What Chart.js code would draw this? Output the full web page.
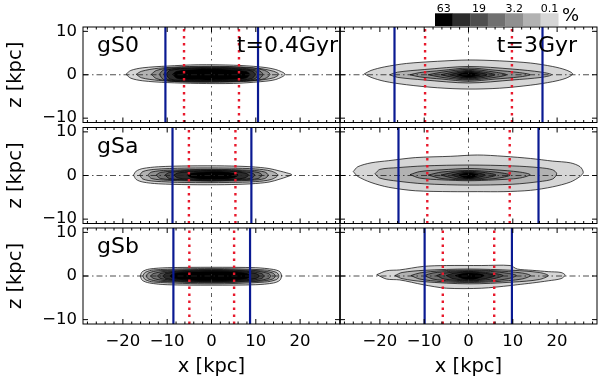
<!DOCTYPE html>
<html><head><meta charset="utf-8">
<script src="https://cdn.jsdelivr.net/npm/chart.js@4.4.0/dist/chart.umd.min.js"></script>
<style>
html,body{margin:0;padding:0;background:#fff;}
#wrap{position:relative;width:600px;height:383px;background:#fff;overflow:hidden;}
#wrap canvas{position:absolute;left:0;top:0;}
</style></head><body><div id="wrap"></div>
<script>
// ---------------- data ----------------
const xTicks = [-20, -10, 0, 10, 20];
const zTicks = [-10, 0, 10];
const X_MIN = -29, X_MAX = 29, Z_MIN = -11, Z_MAX = 11;
const galaxies = ['gS0', 'gSa', 'gSb'];
const times = ['t=0.4Gyr', 't=3Gyr'];
const levelLabels = ['63', '19', '3.2', '0.1'];
const levelColors = ['#000000', '#2c2c2c', '#4e4e4e', '#707070', '#909090', '#b2b2b2', '#d6d6d6'];

// vertical markers [left, right] in kpc, panel order: gS0 early, gS0 late, gSa early, gSa late, gSb early, gSb late
const blueLines = [[-10.4, 10.5], [-16.7, 16.7], [-8.8, 9.0], [-15.8, 15.8], [-8.6, 8.7], [-9.9, 9.8]];
const redLines  = [[-6.2, 6.2], [-9.8, 9.8], [-5.1, 5.4], [-9.3, 9.3], [-5.0, 5.1], [-5.8, 5.8]];

// density contours: [level, [[x, zTop, zBottom], ...]] (kpc)
const gS0_early = [
  [6, [[-19.3,0.1,0.1],[-18.2,1.0,-0.8],[-15.5,1.6,-1.4],[-10,2.0,-1.8],[-3,2.3,-2.0],[5,2.2,-2.0],[11,1.8,-1.6],[14.5,1.2,-1.1],[16.6,0.1,0.1]]],
  [5, [[-17,0.1,0.1],[-15.8,0.8,-0.7],[-12,1.5,-1.3],[-5,1.9,-1.7],[4,1.9,-1.7],[10.5,1.5,-1.3],[14,0.8,-0.7],[15.2,0.1,0.1]]],
  [4, [[-13.6,0.1,0.1],[-12.4,1.0,-0.9],[-9,1.6,-1.5],[0,1.8,-1.6],[8.5,1.6,-1.4],[12,1.0,-0.9],[13.2,0.1,0.1]]],
  [3, [[-11.8,0.1,0.1],[-10.8,1.1,-1.1],[-7,1.5,-1.5],[0,1.7,-1.5],[7,1.5,-1.4],[10.6,1.0,-1.0],[11.6,0.1,0.1]]],
  [2, [[-10.8,0.1,0.1],[-10,1.1,-1.1],[-6,1.45,-1.4],[0,1.55,-1.45],[6,1.4,-1.35],[9.6,1.0,-1.0],[10.6,0.1,0.1]]],
  [1, [[-10.2,0.1,0.1],[-9.4,1.0,-1.0],[-5,1.35,-1.3],[0,1.45,-1.35],[5,1.3,-1.25],[9,0.9,-0.9],[9.9,0.1,0.1]]],
  [0, [[-8.8,0.1,0.1],[-7.8,0.8,-0.8],[-4,1.15,-1.1],[0,1.25,-1.2],[4,1.1,-1.05],[7.8,0.75,-0.75],[8.6,0.1,0.1]]]
];
const gS0_late = [
  [6, [[-23.5,0.2,0.2],[-22,1.0,-0.6],[-19,1.8,-1.5],[-14,2.6,-2.3],[-7,3.1,-3.0],[0,3.4,-3.3],[7,3.2,-3.1],[14,2.7,-2.4],[19,1.9,-1.6],[22,1.1,-0.8],[23.5,0.2,0.2]]],
  [5, [[-17.8,0,0],[-16,0.6,-0.6],[-10,1.2,-1.2],[0,1.9,-1.9],[10,1.3,-1.2],[16.5,0.6,-0.6],[18.8,0,0]]],
  [4, [[-13.2,0,0],[-11,0.5,-0.5],[-6,1.0,-1.0],[0,1.55,-1.5],[6,1.05,-1.0],[11.5,0.5,-0.5],[13.9,0,0]]],
  [3, [[-9.1,0,0],[-6,0.6,-0.6],[0,1.25,-1.2],[6,0.6,-0.6],[8.6,0,0]]],
  [2, [[-6.2,0,0],[-3.5,0.6,-0.6],[0,1.0,-1.0],[3.5,0.6,-0.6],[6.0,0,0]]],
  [1, [[-4.2,0,0],[-2,0.55,-0.55],[0,0.8,-0.8],[2,0.55,-0.55],[4.2,0,0]]],
  [0, [[-2.6,0,0],[-1,0.45,-0.45],[0,0.6,-0.6],[1,0.45,-0.45],[2.6,0,0]]]
];
const gSa_early = [
  [6, [[-17.6,0.1,0.1],[-17,1.0,-0.9],[-15.5,1.6,-1.5],[-12,2.0,-1.9],[-5,2.2,-2.1],[3,2.2,-2.1],[9,2.0,-1.9],[13,1.6,-1.5],[15.5,1.0,-0.8],[17,0.6,-0.3],[18.1,0.2,0.2]]],
  [5, [[-16.2,0.1,0.1],[-15.5,0.9,-0.8],[-13,1.4,-1.3],[-6,1.7,-1.6],[4,1.7,-1.6],[10,1.5,-1.4],[13.5,1.0,-0.9],[15,0.1,0.1]]],
  [4, [[-14.4,0.1,0.1],[-13.5,0.8,-0.7],[-10,1.2,-1.1],[0,1.4,-1.3],[9,1.2,-1.1],[12,0.8,-0.7],[12.8,0.1,0.1]]],
  [3, [[-12.5,0.1,0.1],[-11.5,0.7,-0.7],[-7,1.1,-1.0],[0,1.25,-1.2],[7,1.1,-1.0],[10.5,0.7,-0.7],[11.4,0.1,0.1]]],
  [2, [[-10.5,0.1,0.1],[-9.5,0.7,-0.7],[-5,1.0,-1.0],[0,1.15,-1.1],[5,1.0,-0.95],[8.8,0.65,-0.65],[9.8,0.1,0.1]]],
  [1, [[-8.5,0.1,0.1],[-7.5,0.6,-0.6],[-3,0.95,-0.9],[1,1.05,-1.0],[5,0.9,-0.85],[7.5,0.55,-0.55],[8.4,0.1,0.1]]],
  [0, [[-5.5,0.1,0.1],[-4.5,0.5,-0.5],[-1,0.8,-0.8],[2,0.85,-0.8],[5,0.5,-0.5],[6,0.1,0.1]]]
];
const gSa_late = [
  [6, [[-26,0.9,0.9],[-25,2.0,-0.2],[-22,2.9,-1.6],[-18,3.4,-2.7],[-12,4.1,-3.5],[-4,4.4,-3.7],[2,4.7,-3.7],[8,4.4,-3.7],[14,3.9,-3.4],[19,3.3,-2.6],[23,2.9,-1.5],[25.2,2.0,-0.2],[25.9,0.7,0.7]]],
  [5, [[-21.1,0.4,0.4],[-20,1.4,-0.6],[-16,1.8,-1.3],[-10,2.2,-1.9],[0,2.4,-2.2],[10,2.2,-2.0],[16,1.8,-1.4],[19,1.3,-0.8],[19.9,0.4,0.4]]],
  [4, [[-13.2,0.2,0.2],[-11,0.9,-0.6],[-6,1.3,-1.0],[0,1.6,-1.2],[6,1.3,-1.0],[11.5,0.8,-0.6],[13.9,0.2,0.2]]],
  [3, [[-9.1,0.1,0.1],[-6,0.8,-0.7],[0,1.15,-1.0],[6,0.8,-0.7],[9.4,0.1,0.1]]],
  [2, [[-6.2,0.1,0.1],[-3.5,0.7,-0.6],[0,0.95,-0.85],[3.5,0.7,-0.6],[6.2,0.1,0.1]]],
  [1, [[-3.8,0.1,0.1],[-2,0.55,-0.5],[0,0.75,-0.7],[2,0.55,-0.5],[3.8,0.1,0.1]]],
  [0, [[-2.2,0.1,0.1],[-1,0.45,-0.45],[0,0.55,-0.55],[1,0.45,-0.45],[2.2,0.1,0.1]]]
];
const gSb_early = [
  [6, [[-16.1,0,0],[-15.6,1.0,-1.0],[-14,1.6,-1.6],[-10,1.9,-2.0],[0,2.0,-2.1],[10,1.9,-2.0],[14,1.5,-1.6],[15.4,1.0,-1.0],[15.8,0,0]]],
  [5, [[-15.5,0,0],[-15,0.8,-0.8],[-13,1.4,-1.4],[0,1.7,-1.8],[12,1.4,-1.4],[14.7,0.8,-0.8],[15.2,0,0]]],
  [4, [[-14.8,0,0],[-14.2,0.7,-0.7],[-12,1.2,-1.2],[0,1.5,-1.55],[11,1.2,-1.2],[13.8,0.7,-0.7],[14.4,0,0]]],
  [3, [[-13.8,0,0],[-13,0.6,-0.6],[-10,1.1,-1.1],[0,1.35,-1.4],[10,1.1,-1.1],[12.8,0.6,-0.6],[13.4,0,0]]],
  [2, [[-12.2,0,0],[-11.4,0.6,-0.6],[-8,1.05,-1.05],[0,1.25,-1.3],[8,1.05,-1.05],[11.2,0.6,-0.6],[11.9,0,0]]],
  [1, [[-11,0,0],[-10.2,0.6,-0.6],[-6,1.0,-1.0],[0,1.15,-1.2],[6,1.0,-1.0],[10,0.55,-0.55],[10.8,0,0]]],
  [0, [[-9.4,0,0],[-8.5,0.6,-0.6],[-4,0.9,-0.95],[1,1.0,-1.05],[5,0.9,-0.9],[8,0.55,-0.55],[8.8,0,0]]]
];
const gSb_late = [
  [6, [[-20.7,0.3,0.3],[-18.5,1.2,-0.7],[-15.5,1.4,-0.9],[-10.2,2.2,-2.0],[-5,2.4,-2.8],[3,2.4,-2.8],[9.4,2.4,-2.2],[11,1.6,-2.0],[14.4,1.3,-1.6],[18,1.0,-1.1],[20.9,0.8,-0.6],[21.8,0.2,0.2]]],
  [5, [[-16.6,0.1,0.1],[-15,0.8,-0.6],[-10,1.3,-1.3],[0,1.6,-1.8],[10,1.3,-1.4],[16,0.8,-0.8],[18,0.1,0.1]]],
  [4, [[-13,0.1,0.1],[-11,0.7,-0.7],[-6,1.2,-1.3],[0,1.35,-1.5],[6,1.2,-1.3],[12,0.7,-0.7],[14,0.1,0.1]]],
  [3, [[-10,0.1,0.1],[-8,0.7,-0.7],[-4,1.05,-1.15],[0,1.2,-1.3],[5,1.05,-1.1],[9,0.6,-0.6],[10.8,0.1,0.1]]],
  [2, [[-7.2,0.1,0.1],[-5.5,0.65,-0.7],[0,1.05,-1.1],[5,0.7,-0.75],[7.8,0.1,0.1]]],
  [1, [[-5,0.1,0.1],[-3.5,0.6,-0.6],[0,0.9,-0.95],[3.5,0.65,-0.65],[6,0.1,0.1]]],
  [0, [[-3,0.1,0.1],[-1.5,0.5,-0.5],[0,0.7,-0.75],[2,0.55,-0.55],[3.5,0.1,0.1]]]
];
const panelContours = [gS0_early, gS0_late, gSa_early, gSa_late, gSb_early, gSb_late];

// ---------------- layout / style ----------------
const FONT = 'DejaVu Sans';
Chart.defaults.font.family = FONT;
Chart.defaults.color = '#000';
const rowTop = [27, 127.5, 228];
const rowBottom = [122.5, 223.5, 324];
const colLeft = [83, 340];
const colRight = [340, 597];
const W = 600, H = 383;

function outline(pts) {
  const top = pts.map(p => ({x: p[0], y: p[1]}));
  const bot = pts.slice(1, -1).reverse().map(p => ({x: p[0], y: p[2]}));
  return top.concat(bot, [top[0]]);
}
const fmt = v => (v < 0 ? '\u2212' + Math.abs(v) : String(v));

const panelPlugin = {
  id: 'panelDeco',
  afterDatasetsDraw(chart, args, o) {
    const {ctx, chartArea: a, scales: {x, y}} = chart;
    const r = o.row, c = o.col;
    ctx.save();
    ctx.strokeStyle = '#000';
    ctx.lineWidth = 1;
    ctx.strokeRect(a.left, a.top, a.right - a.left, a.bottom - a.top);
    ctx.beginPath();
    for (let v = -28; v <= 28; v += 2) {
      const px = x.getPixelForValue(v);
      const L = v % 10 === 0 ? 5 : 2.5;
      ctx.moveTo(px, a.bottom); ctx.lineTo(px, a.bottom - L);
      ctx.moveTo(px, a.top); ctx.lineTo(px, a.top + L);
    }
    zTicks.forEach(v => {
      const py = y.getPixelForValue(v);
      ctx.moveTo(a.left, py); ctx.lineTo(a.left + 5, py);
      ctx.moveTo(a.right, py); ctx.lineTo(a.right - 5, py);
    });
    if (c === 1) {
      ctx.moveTo(a.left, a.top - (r > 0 ? 2.5 : 0));
      ctx.lineTo(a.left, a.bottom + (r < 2 ? 2.5 : 0));
    }
    ctx.stroke();
    ctx.fillStyle = '#000';
    ctx.textBaseline = 'alphabetic';
    ctx.font = '22px "' + FONT + '"';
    if (c === 0) {
      ctx.textAlign = 'left';
      ctx.fillText(galaxies[r], a.left + 14, a.top + 25);
    }
    if (r === 0) {
      ctx.textAlign = 'right';
      ctx.fillText(times[c], a.right - (c === 0 ? 2 : 20), a.top + 25);
    }
    if (r === 0 && c === 1) {
      // colour bar of density levels
      const bx = 435, bw = 17.6, by = 13.3, bh = 12.7;
      levelColors.forEach((col, i) => {
        ctx.fillStyle = col;
        ctx.fillRect(bx + i * bw, by, bw + 0.3, bh);
      });
      ctx.fillStyle = '#000';
      ctx.font = '11px "' + FONT + '"';
      ctx.textAlign = 'center';
      levelLabels.forEach((t, i) => ctx.fillText(t, bx + (2 * i + 0.5) * bw, 11.5));
      ctx.font = '18px "' + FONT + '"';
      ctx.textAlign = 'left';
      ctx.fillText('%', 562, 21);
    }
    ctx.restore();
  }
};

const wrap = document.getElementById('wrap');
for (let i = 0; i < 6; i++) {
  const r = Math.floor(i / 2), c = i % 2;
  const cv = document.createElement('canvas');
  cv.width = W; cv.height = H;
  cv.style.width = W + 'px'; cv.style.height = H + 'px';
  wrap.appendChild(cv);

  const datasets = [];
  const b = blueLines[i], rd = redLines[i];
  const lineBase = {showLine: true, pointRadius: 0, fill: false, tension: 0};
  datasets.push(Object.assign({}, lineBase, {order: 0, borderColor: '#0a1a92', borderWidth: 2.2,
    data: [{x: b[0], y: Z_MIN}, {x: b[0], y: Z_MAX}]}));
  datasets.push(Object.assign({}, lineBase, {order: 0, borderColor: '#0a1a92', borderWidth: 2.2,
    data: [{x: b[1], y: Z_MIN}, {x: b[1], y: Z_MAX}]}));
  datasets.push(Object.assign({}, lineBase, {order: 1, borderColor: '#e8192c', borderWidth: 2.4, borderDash: [2.4, 4.6],
    data: [{x: rd[0], y: Z_MIN}, {x: rd[0], y: Z_MAX}]}));
  datasets.push(Object.assign({}, lineBase, {order: 1, borderColor: '#e8192c', borderWidth: 2.4, borderDash: [2.4, 4.6],
    data: [{x: rd[1], y: Z_MIN}, {x: rd[1], y: Z_MAX}]}));
  datasets.push(Object.assign({}, lineBase, {order: 2, borderColor: '#222', borderWidth: 0.8, borderDash: [6, 3, 1.5, 3],
    data: [{x: X_MIN, y: 0}, {x: X_MAX, y: 0}]}));
  datasets.push(Object.assign({}, lineBase, {order: 2, borderColor: '#333', borderWidth: 0.8, borderDash: [4, 4, 1.5, 4],
    data: [{x: 0, y: Z_MIN}, {x: 0, y: Z_MAX}]}));
  panelContours[i].forEach(([lvl, pts]) => {
    datasets.push({
      order: 10 + lvl, showLine: true, pointRadius: 0, tension: 0.3,
      data: outline(pts), fill: 'shape',
      backgroundColor: levelColors[lvl], borderColor: '#000', borderWidth: 0.7
    });
  });

  new Chart(cv, {
    type: 'scatter',
    data: {datasets},
    options: {
      responsive: false, animation: false, devicePixelRatio: 1,
      layout: {padding: {
        left: c === 0 ? 0 : colLeft[1],
        right: W - colRight[c],
        top: rowTop[r],
        bottom: r < 2 ? H - rowBottom[r] : 0
      }},
      plugins: {legend: {display: false}, tooltip: {enabled: false}, panelDeco: {row: r, col: c}},
      scales: {
        x: {
          type: 'linear', min: X_MIN, max: X_MAX, display: r === 2,
          grid: {display: false, drawTicks: false}, border: {display: false},
          afterBuildTicks: s => { s.ticks = xTicks.map(v => ({value: v})); },
          afterFit: s => { s.height = s.options.display ? H - rowBottom[2] : 0; },
          ticks: {font: {size: 16.5}, padding: 8, maxRotation: 0, autoSkip: false, callback: v => fmt(v)},
          title: {display: true, text: 'x [kpc]', font: {size: 19.5}, padding: {top: 0, bottom: 4}}
        },
        y: {
          type: 'linear', min: Z_MIN, max: Z_MAX, display: c === 0,
          grid: {display: false, drawTicks: false}, border: {display: false},
          afterBuildTicks: s => { s.ticks = zTicks.map(v => ({value: v})); },
          afterFit: s => { s.width = s.options.display ? colLeft[0] : 0; },
          ticks: {font: {size: 16.5}, padding: 6, autoSkip: false, callback: v => fmt(v)},
          title: {display: true, text: 'z [kpc]', font: {size: 19.5}, padding: {top: 4, bottom: 0}}
        }
      }
    },
    plugins: [panelPlugin]
  });
}
</script>
</body></html>
